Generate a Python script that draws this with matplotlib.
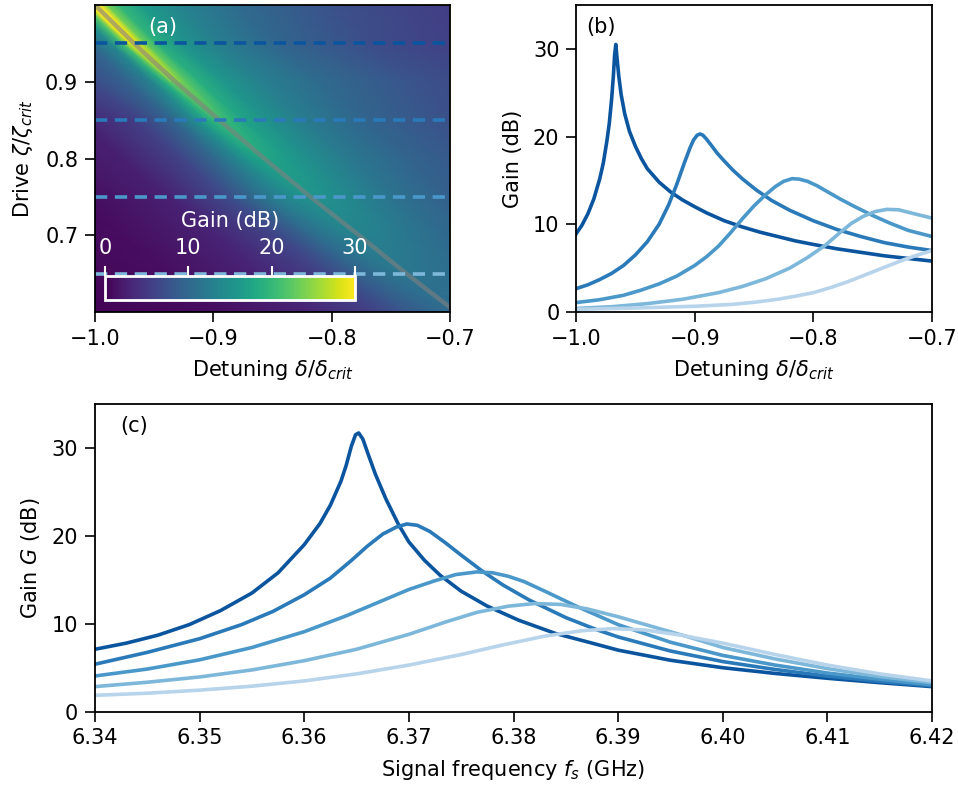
import numpy as np
import matplotlib
matplotlib.use("Agg")
import matplotlib.pyplot as plt

plt.rcParams['font.size'] = 15
plt.rcParams['axes.linewidth'] = 1.3
plt.rcParams['xtick.major.size'] = 7
plt.rcParams['ytick.major.size'] = 7
plt.rcParams['xtick.major.width'] = 1.2
plt.rcParams['ytick.major.width'] = 1.2
plt.rcParams['xtick.major.pad'] = 5
plt.rcParams['ytick.major.pad'] = 5
plt.rcParams['axes.labelpad'] = 7

# ---- panel (a): gain map, stored along the gain ridge ----
zeta_rows = [0.60, 0.65, 0.70, 0.75, 0.80, 0.85, 0.90, 0.95, 1.00]
ridge_delta = [-0.695, -0.737, -0.777, -0.818, -0.857, -0.895, -0.932, -0.967, -1.000]
ridge_offsets = [-0.31, -0.2, -0.12, -0.07, -0.04, -0.02, -0.01, -0.004, 0.0,
                 0.004, 0.01, 0.02, 0.04, 0.07, 0.12, 0.2, 0.31]
gain_map = [
    [0.2, 1.1, 3.2, 5.8, 8.3, 9.7, 10.1, 10.25, 10.3, 10.25, 10.2, 10.0, 9.5, 8.6, 7.3, 5.9, 4.5],
    [0.3, 1.1, 3.2, 6.0, 9.3, 11.0, 11.5, 11.65, 11.7, 11.65, 11.6, 11.3, 10.6, 9.5, 7.9, 6.2, 4.7],
    [0.4, 1.0, 3.0, 6.3, 10.3, 12.4, 13.0, 13.25, 13.3, 13.25, 13.1, 12.8, 11.9, 10.4, 8.4, 6.4, 4.7],
    [0.6, 0.8, 2.7, 6.8, 11.7, 14.0, 14.8, 15.1, 15.2, 15.2, 15.1, 14.7, 13.4, 11.4, 9.0, 6.8, 4.8],
    [0.9, 1.3, 2.6, 6.0, 10.5, 14.5, 16.6, 17.4, 17.6, 17.5, 17.2, 16.4, 14.6, 12.3, 9.7, 7.2, 5.0],
    [1.2, 1.8, 2.6, 5.6, 9.5, 14.8, 18.3, 19.9, 20.3, 20.1, 19.3, 17.5, 15.2, 12.6, 9.8, 7.2, 5.0],
    [2.5, 3.5, 4.8, 6.8, 9.5, 13.5, 18.5, 22.5, 24.5, 24.0, 22.0, 19.0, 16.0, 13.3, 10.5, 7.8, 5.4],
    [3.0, 4.5, 6.0, 7.5, 9.5, 14.0, 21.0, 28.0, 31.0, 28.0, 23.0, 19.0, 15.5, 12.8, 9.8, 7.0, 5.0],
    [4.0, 5.5, 7.0, 9.0, 11.5, 16.0, 22.0, 30.0, 40.0, 30.0, 24.0, 20.0, 16.5, 13.5, 10.5, 7.5, 5.2],
]
cut_drives = [0.95, 0.85, 0.75, 0.65]

# ---- panel (b): gain cuts vs detuning ----
b_delta = [
    [-1.000, -0.995, -0.990, -0.985, -0.980, -0.977, -0.974, -0.972, -0.970, -0.9685, -0.9675,
     -0.9665, -0.9655, -0.964, -0.962, -0.959, -0.955, -0.950, -0.945, -0.940, -0.930, -0.920,
     -0.910, -0.900, -0.890, -0.875, -0.860, -0.845, -0.830, -0.815, -0.800, -0.780, -0.760,
     -0.740, -0.720, -0.700],
    [-1.000, -0.990, -0.980, -0.970, -0.960, -0.950, -0.940, -0.930, -0.922, -0.915, -0.909,
     -0.904, -0.901, -0.898, -0.8955, -0.893, -0.890, -0.886, -0.881, -0.875, -0.868, -0.860,
     -0.848, -0.835, -0.820, -0.800, -0.780, -0.760, -0.740, -0.720, -0.700],
    [-1.000, -0.980, -0.960, -0.945, -0.930, -0.915, -0.900, -0.890, -0.880, -0.870, -0.860,
     -0.850, -0.840, -0.832, -0.825, -0.818, -0.812, -0.805, -0.797, -0.788, -0.777, -0.765,
     -0.750, -0.735, -0.720, -0.700],
    [-1.000, -0.970, -0.940, -0.910, -0.880, -0.860, -0.840, -0.820, -0.805, -0.790, -0.778,
     -0.768, -0.758, -0.748, -0.738, -0.728, -0.718, -0.709, -0.700],
    [-1.000, -0.950, -0.900, -0.870, -0.850, -0.830, -0.815, -0.800, -0.785, -0.770, -0.755,
     -0.740, -0.725, -0.712, -0.700],
]
b_gain = [
    [8.9, 9.9, 11.2, 12.9, 15.2, 17.0, 19.5, 21.5, 24.3, 27.0, 29.3, 30.5, 29.0, 26.9, 24.8,
     22.6, 20.6, 18.9, 17.5, 16.35, 14.8, 13.65, 12.75, 12.0, 11.3, 10.4, 9.7, 9.1, 8.6, 8.1,
     7.7, 7.2, 6.8, 6.4, 6.1, 5.8],
    [2.66, 3.1, 3.7, 4.4, 5.3, 6.5, 8.0, 10.0, 12.2, 14.6, 16.9, 18.7, 19.6, 20.15, 20.3,
     20.15, 19.7, 19.0, 18.1, 17.2, 16.2, 15.2, 13.9, 12.7, 11.6, 10.4, 9.4, 8.6, 7.9, 7.4, 7.0],
    [1.07, 1.4, 1.9, 2.5, 3.2, 4.1, 5.3, 6.3, 7.5, 9.0, 10.6, 12.1, 13.4, 14.3, 14.9, 15.2,
     15.15, 14.9, 14.4, 13.7, 12.85, 12.0, 11.0, 10.1, 9.3, 8.6],
    [0.4, 0.6, 0.95, 1.45, 2.2, 2.9, 3.8, 5.0, 6.2, 7.6, 9.0, 10.1, 10.9, 11.45, 11.7, 11.65,
     11.3, 11.0, 10.7],
    [0.3, 0.45, 0.65, 0.85, 1.1, 1.45, 1.8, 2.2, 2.8, 3.5, 4.3, 5.1, 5.9, 6.5, 7.0],
]

# ---- panel (c): gain vs signal frequency ----
c_freq = [
    [6.340, 6.343, 6.346, 6.349, 6.352, 6.355, 6.3575, 6.360, 6.3615, 6.3625, 6.3635, 6.3640,
     6.3645, 6.3649, 6.3652, 6.3656, 6.3661, 6.3668, 6.3678, 6.369, 6.370, 6.3715, 6.373,
     6.375, 6.3775, 6.3805, 6.384, 6.3875, 6.390, 6.395, 6.400, 6.405, 6.410, 6.415, 6.420],
    [6.340, 6.345, 6.350, 6.354, 6.357, 6.360, 6.3625, 6.3645, 6.366, 6.3675, 6.3688, 6.3698,
     6.3708, 6.372, 6.3735, 6.375, 6.377, 6.379, 6.3815, 6.385, 6.388, 6.390, 6.395, 6.400,
     6.405, 6.410, 6.415, 6.420],
    [6.340, 6.345, 6.350, 6.355, 6.360, 6.364, 6.367, 6.370, 6.3725, 6.3745, 6.3765, 6.378,
     6.3795, 6.381, 6.383, 6.386, 6.390, 6.395, 6.400, 6.405, 6.410, 6.415, 6.420],
    [6.340, 6.345, 6.350, 6.355, 6.360, 6.365, 6.370, 6.3735, 6.3765, 6.3795, 6.382, 6.3845,
     6.387, 6.390, 6.3935, 6.397, 6.400, 6.405, 6.410, 6.415, 6.420],
    [6.340, 6.345, 6.350, 6.355, 6.360, 6.365, 6.370, 6.375, 6.379, 6.383, 6.3865, 6.3895,
     6.3925, 6.396, 6.400, 6.405, 6.410, 6.415, 6.420],
]
c_gain = [
    [7.1, 7.8, 8.7, 9.9, 11.5, 13.5, 15.8, 19.0, 21.4, 23.5, 26.2, 28.0, 30.2, 31.5, 31.7,
     31.0, 29.3, 27.0, 24.2, 21.3, 19.3, 17.2, 15.5, 13.7, 12.0, 10.4, 8.9, 7.8, 7.0, 5.85,
     5.0, 4.35, 3.8, 3.3, 2.85],
    [5.4, 6.75, 8.3, 9.9, 11.4, 13.3, 15.2, 17.2, 18.8, 20.2, 21.0, 21.35, 21.2, 20.5, 19.2,
     17.8, 16.0, 14.4, 12.7, 10.7, 9.3, 8.5, 6.9, 5.7, 4.8, 4.05, 3.45, 2.95],
    [4.06, 4.85, 5.9, 7.3, 9.1, 10.9, 12.4, 13.9, 14.9, 15.6, 15.9, 15.8, 15.4, 14.8, 13.7,
     12.0, 9.9, 7.9, 6.4, 5.3, 4.4, 3.7, 3.05],
    [2.85, 3.35, 3.95, 4.75, 5.8, 7.1, 8.8, 10.2, 11.3, 12.0, 12.3, 12.2, 11.7, 10.8, 9.6,
     8.4, 7.3, 6.0, 4.9, 4.0, 3.3],
    [1.86, 2.1, 2.45, 2.9, 3.5, 4.3, 5.3, 6.5, 7.6, 8.6, 9.2, 9.45, 9.3, 8.7, 7.8, 6.5, 5.3,
     4.3, 3.5],
]

line_colors = ['#0b559f', '#2a7ab9', '#4a98c9', '#7db8da', '#b7d4ea']

fig = plt.figure(figsize=(9.58, 7.87), dpi=100)
ax_a = fig.add_axes([0.0992, 0.6036, 0.3706, 0.390])
ax_b = fig.add_axes([0.6013, 0.6036, 0.3716, 0.390])
ax_c = fig.add_axes([0.0992, 0.0957, 0.8737, 0.391])

# (a) map on a grid that follows the ridge
offs = np.array(ridge_offsets)
X = np.array(ridge_delta)[:, None] + offs[None, :]
Y = np.repeat(np.array(zeta_rows)[:, None], len(offs), axis=1)
mesh = ax_a.pcolormesh(X, Y, np.array(gain_map), cmap='viridis', vmin=0, vmax=30,
                       shading='gouraud', rasterized=True)
ax_a.plot(ridge_delta, zeta_rows, color='grey', alpha=0.6, lw=3.2)
for z, c in zip(cut_drives, line_colors):
    ax_a.axhline(z, color=c, ls='--', lw=2.6, dashes=(3.4, 2.1))
ax_a.set_xlim(-1.0, -0.7)
ax_a.set_ylim(0.6, 1.0)
ax_a.set_xticks([-1.0, -0.9, -0.8, -0.7])
ax_a.set_yticks([0.7, 0.8, 0.9])
ax_a.set_xlabel(r'Detuning $\delta/\delta_{crit}$')
ax_a.set_ylabel(r'Drive $\zeta/\zeta_{crit}$')
ax_a.text(0.15, 0.93, '(a)', transform=ax_a.transAxes, color='white', va='center')

cax = fig.add_axes([0.1096, 0.6188, 0.261, 0.0305])
cb = fig.colorbar(mesh, cax=cax, orientation='horizontal', ticks=[0, 10, 20, 30])
cax.xaxis.set_ticks_position('top')
cax.xaxis.set_label_position('top')
cb.set_label('Gain (dB)', color='white', labelpad=8)
cax.tick_params(colors='white', length=7, width=1.5, labelcolor='white', pad=6)
cb.outline.set_edgecolor('white')
cb.outline.set_linewidth(2)

# (b)
for d, g, c in zip(b_delta, b_gain, line_colors):
    ax_b.plot(d, g, color=c, lw=2.6, solid_joinstyle='round')
ax_b.set_xlim(-1.0, -0.7)
ax_b.set_ylim(0, 35)
ax_b.set_xticks([-1.0, -0.9, -0.8, -0.7])
ax_b.set_yticks([0, 10, 20, 30])
ax_b.set_xlabel(r'Detuning $\delta/\delta_{crit}$')
ax_b.set_ylabel('Gain (dB)')
ax_b.text(0.03, 0.93, '(b)', transform=ax_b.transAxes, va='center')

# (c)
for f, g, c in zip(c_freq, c_gain, line_colors):
    ax_c.plot(f, g, color=c, lw=2.6, solid_joinstyle='round')
ax_c.set_xlim(6.34, 6.42)
ax_c.set_ylim(0, 35)
ax_c.set_xticks(np.arange(6.34, 6.4201, 0.01))
ax_c.set_xticklabels(['6.34', '6.35', '6.36', '6.37', '6.38', '6.39', '6.40', '6.41', '6.42'])
ax_c.set_yticks([0, 10, 20, 30])
ax_c.set_xlabel(r'Signal frequency $f_s$ (GHz)')
ax_c.set_ylabel(r'Gain $G$ (dB)')
ax_c.text(0.03, 0.93, '(c)', transform=ax_c.transAxes, va='center')

fig.savefig('out.png', dpi=100)
